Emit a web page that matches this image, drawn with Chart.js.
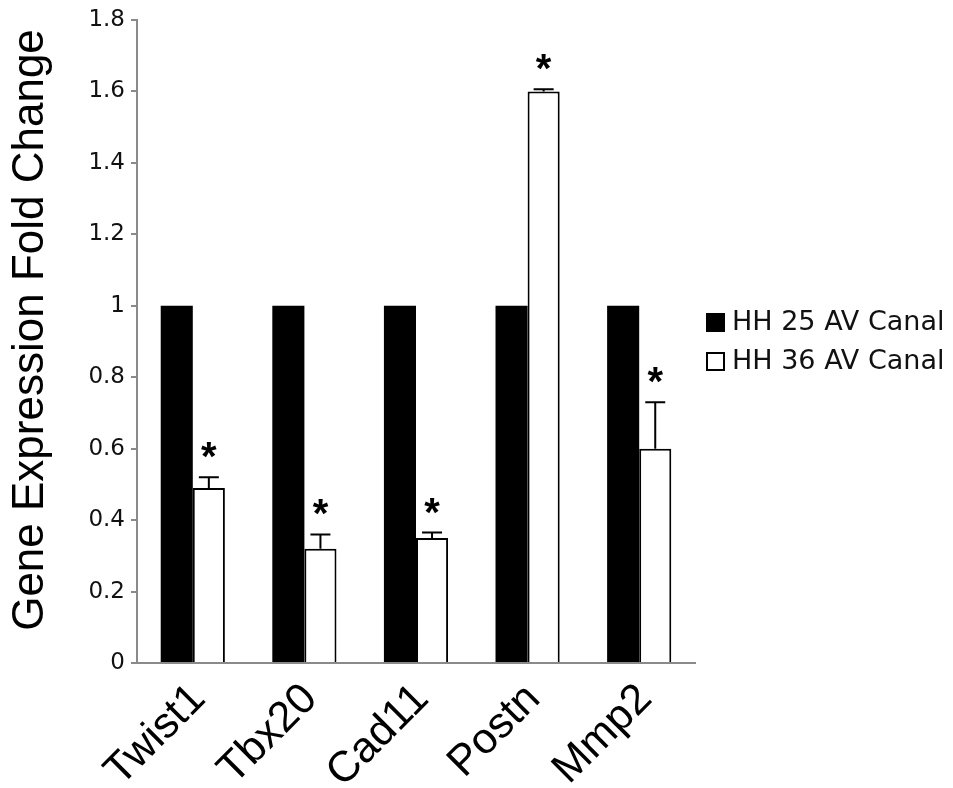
<!DOCTYPE html>
<html>
<head>
<meta charset="utf-8">
<script src="https://cdn.jsdelivr.net/npm/chart.js@4"></script>
<style>
  html, body { margin: 0; padding: 0; background: #fff; }
  #wrap { width: 953px; height: 788px; }
</style>
</head>
<body>
<div id="wrap"><canvas id="chart" width="953" height="788"></canvas></div>
<script>
// Data
const genes = ['Twist1', 'Tbx20', 'Cad11', 'Postn', 'Mmp2'];
const hh25 = [1, 1, 1, 1, 1];
const hh36 = [0.49, 0.32, 0.35, 1.60, 0.60];
const hh36Err = [0.03, 0.04, 0.015, 0.006, 0.13];
const hh36Sig = ['*', '*', '*', '*', '*'];
const yTicks = [0, 0.2, 0.4, 0.6, 0.8, 1, 1.2, 1.4, 1.6, 1.8];
const seriesNames = ['HH 25 AV Canal', 'HH 36 AV Canal'];

const axisGray = '#8a8a8a';

// error bars + significance stars over the white bars
const errorBars = {
    id: 'errorBars',
    afterDatasetsDraw(chart) {
        const ctx = chart.ctx;
        const y = chart.scales.y;
        const meta = chart.getDatasetMeta(1);
        ctx.save();
        ctx.strokeStyle = '#000';
        ctx.lineWidth = 2;
        meta.data.forEach((bar, i) => {
            const top = y.getPixelForValue(hh36[i] + hh36Err[i]);
            ctx.beginPath();
            ctx.moveTo(bar.x, bar.y);
            ctx.lineTo(bar.x, top);
            ctx.moveTo(bar.x - 10, top);
            ctx.lineTo(bar.x + 10, top);
            ctx.stroke();
            if (hh36Sig[i]) {
                ctx.fillStyle = '#000';
                ctx.font = 'bold 40px "Liberation Sans"';
                ctx.textAlign = 'center';
                ctx.textBaseline = 'alphabetic';
                const m = ctx.measureText(hh36Sig[i]);
                const mid = (m.actualBoundingBoxAscent - m.actualBoundingBoxDescent) / 2;
                ctx.fillText(hh36Sig[i], bar.x, top - 27 + mid);
            }
        });
        ctx.restore();
    }
};

// rotated y title and legend at the right
const decorations = {
    id: 'decorations',
    afterDraw(chart) {
        const ctx = chart.ctx;
        ctx.save();
        ctx.fillStyle = '#000';
        ctx.translate(31, 330);
        ctx.rotate(-Math.PI / 2);
        ctx.font = '44px "Liberation Sans"';
        ctx.textAlign = 'center';
        ctx.textBaseline = 'middle';
        ctx.fillText('Gene Expression Fold Change', 0, 0);
        ctx.restore();

        ctx.save();
        const rows = [323, 362];
        chart.data.datasets.forEach((ds, i) => {
            const cy = rows[i];
            ctx.fillStyle = ds.backgroundColor;
            ctx.fillRect(706, cy - 10, 19, 19);
            if (ds.borderWidth) {
                ctx.strokeStyle = '#000';
                ctx.lineWidth = 2;
                ctx.strokeRect(707, cy - 9, 17, 17);
            }
            ctx.fillStyle = '#111';
            ctx.font = '27px "DejaVu Sans"';
            ctx.textAlign = 'left';
            ctx.textBaseline = 'middle';
            ctx.fillText(seriesNames[i], 732, cy);
        });
        ctx.restore();
    }
};

new Chart(document.getElementById('chart').getContext('2d'), {
    type: 'bar',
    data: {
        labels: genes,
        datasets: [{
            label: seriesNames[0],
            data: hh25,
            backgroundColor: '#000',
            borderWidth: 0,
            categoryPercentage: 0.575,
            barPercentage: 1.0
        }, {
            label: seriesNames[1],
            data: hh36,
            backgroundColor: '#fff',
            borderColor: '#000',
            borderWidth: 2,
            categoryPercentage: 0.575,
            barPercentage: 1.0
        }]
    },
    options: {
        responsive: false,
        animation: false,
        layout: {
            padding: { left: 50, top: 20, right: 258, bottom: 0 }
        },
        scales: {
            x: {
                afterFit: (s) => { s.height = 125; },
                grid: { display: false },
                border: { display: true, color: axisGray, width: 2 },
                ticks: {
                    color: '#000',
                    font: { family: 'Liberation Sans', size: 43 },
                    maxRotation: 45,
                    minRotation: 45,
                    autoSkip: false,
                    padding: 3,
                    labelOffset: 6
                }
            },
            y: {
                min: 0,
                max: 1.8,
                afterFit: (s) => { s.width = 87; },
                afterBuildTicks: (s) => { s.ticks = yTicks.map(v => ({ value: v })); },
                grid: {
                    drawOnChartArea: false,
                    drawTicks: true,
                    tickLength: 6,
                    color: axisGray,
                    lineWidth: 2
                },
                border: { display: true, color: axisGray, width: 2 },
                ticks: {
                    color: '#111',
                    font: { family: 'DejaVu Sans', size: 23 },
                    padding: 6,
                    callback: (v) => String(v)
                }
            }
        },
        plugins: {
            legend: { display: false },
            tooltip: { enabled: false }
        }
    },
    plugins: [errorBars, decorations]
});
</script>
</body>
</html>
